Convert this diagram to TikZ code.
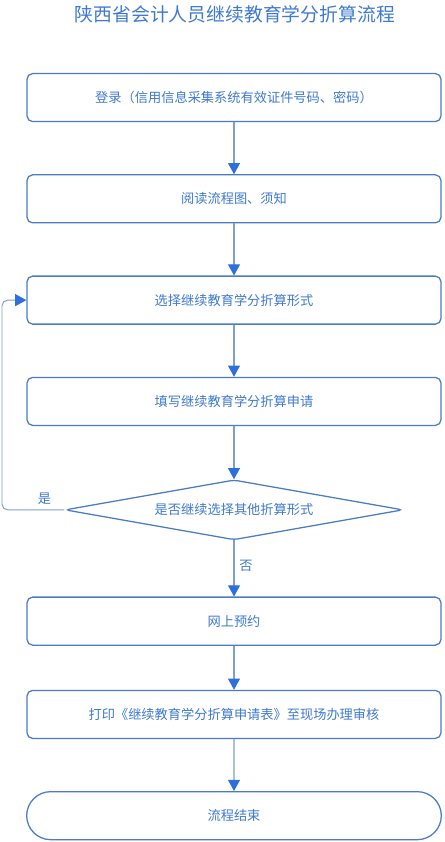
\documentclass[tikz,border=0pt]{standalone}
\usepackage{fontspec}
\setmainfont{Noto Sans CJK SC}
\usetikzlibrary{shapes.geometric,shapes.misc,arrows.meta,positioning,calc}

\definecolor{boxline}{HTML}{4A7CC4}
\definecolor{boxtext}{HTML}{3F7AD0}
\definecolor{flowline}{HTML}{7F9FD2}
\definecolor{tipblue}{HTML}{2D6FDC}

\begin{document}
\begin{tikzpicture}[node distance=1.3cm, thick,
        step box/.style={rectangle, rounded corners=4pt, draw=boxline, line width=0.9pt, fill=white, text=boxtext,
            minimum width=10.35cm, minimum height=1.2cm, font=\fontsize{9.4}{11}\selectfont},
        decide/.style={diamond, rounded corners=3pt, draw=boxline, line width=0.9pt, fill=white, text=boxtext, aspect=6,
            minimum width=8.45cm, minimum height=1.5cm, inner sep=0pt, font=\fontsize{9.4}{11}\selectfont},
        finish/.style={rounded rectangle, draw=boxline, line width=0.9pt, fill=white, text=boxtext,
            minimum width=10.6cm, minimum height=1.2cm, font=\fontsize{9.4}{11}\selectfont},
        flow/.style={draw=flowline, line width=0.8pt, -{Triangle[length=2.8mm, width=3mm, color=tipblue]}}]

    \useasboundingbox (0,0) rectangle (11.1,-21.05);

    \node [text=boxtext, font=\fontsize{13.4}{15}\selectfont] (title) at (5.87,-0.36) {陕西省会计人员继续教育学分折算流程};

    \node [step box] (login) at (5.85,-2.44) {登录（信用信息采集系统有效证件号码、密码）};
    \node [step box, below=of login] (read) {阅读流程图、须知};
    \node [step box, below=of read] (choose) {选择继续教育学分折算形式};
    \node [step box, below=of choose] (apply) {填写继续教育学分折算申请};
    \node [decide, below=1.33cm of apply] (again) {是否继续选择其他折算形式};
    \node [step box, below=1.4cm of again] (book) {网上预约};
    \node [step box, below=1.1cm of book] (print) {打印《继续教育学分折算申请表》至现场办理审核};
    \node [finish, below=1.3cm of print] (done) {流程结束};

    \draw [flow] (login) -- (read);
    \draw [flow] (read) -- (choose);
    \draw [flow] (choose) -- (apply);
    \draw [flow] (apply) -- (again);
    \draw [flow] (again) -- node [right, text=boxtext, font=\fontsize{9.4}{11}\selectfont, pos=0.45] {否} (book);
    \draw [flow] (book) -- (print);
    \draw [flow] (print) -- (done);

    % loop back
    \coordinate (bend) at (0.05,0);
    \draw [flow, line width=0.7pt, rounded corners=4pt] (again.west) -- (bend |- again.west) -- (bend |- choose.west) -- (choose.west);
    \node [text=boxtext, font=\fontsize{9.4}{11}\selectfont, above=0pt of again.west, xshift=-0.5cm] (yes) {是};
\end{tikzpicture}
\end{document}
